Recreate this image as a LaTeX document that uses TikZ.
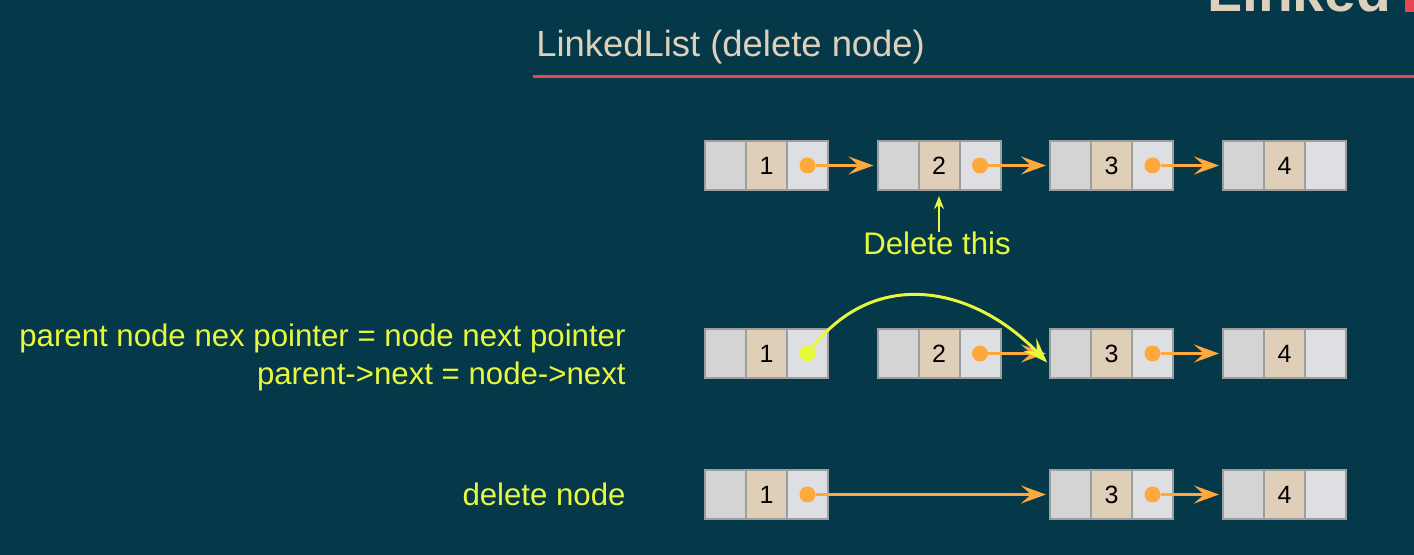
\documentclass[tikz,border=0pt]{standalone}
\usepackage{fontspec}
\setmainfont{Liberation Sans}
\usepackage{tikz}
\usetikzlibrary{arrows.meta,positioning}

\definecolor{slidebg}{RGB}{5,57,74}
\definecolor{titlebeige}{RGB}{221,209,187}
\definecolor{titlered}{RGB}{232,70,80}
\definecolor{cellprev}{RGB}{212,212,212}
\definecolor{celldata}{RGB}{224,207,184}
\definecolor{cellnext}{RGB}{222,223,227}
\definecolor{cellborder}{RGB}{158,158,158}
\definecolor{linkorange}{RGB}{255,168,60}
\definecolor{noteyellow}{RGB}{232,248,62}

\begin{document}
\begin{tikzpicture}[x=0.5pt,y=-0.5pt,>={Stealth[length=12.5pt,width=9pt,inset=5pt]},
  cell/.style={draw=cellborder,line width=1pt,minimum width=20.5pt,minimum height=24.5pt,
    inner sep=0pt,outer sep=0pt,font=\fontsize{12.5}{15}\selectfont},
  prev cell/.style={cell,fill=cellprev},
  data cell/.style={cell,fill=celldata},
  next cell/.style={cell,fill=cellnext},
  dot/.style={circle,inner sep=0pt,minimum size=8pt},
  link/.style={->,draw=linkorange,line width=1.5pt,shorten >=2pt},
  note/.style={text=noteyellow,font=\fontsize{15.6}{19.5}\selectfont,inner sep=0pt}]

  \useasboundingbox (0,0) rectangle (1414,555);
  \fill[slidebg] (0,0) rectangle (1414,555);
  \clip (0,0) rectangle (1414,555);

  % heading
  \node[anchor=base west,inner sep=0pt,text=titlebeige,font=\bfseries\fontsize{28.5}{30}\selectfont] (head) at (1207,12) {Linked};
  \fill[titlered] (1405,0) rectangle (1414,12);
  \node[anchor=base west,inner sep=0pt,text=titlebeige,font=\fontsize{18.2}{22}\selectfont] (title) at (536,57) {LinkedList (delete node)};
  \fill[titlered] (533,75.5) rectangle (1414,78.5);

  % the three lists
  \foreach \i/\x in {1/725.5,2/898,3/1070.5,4/1243.5} {
    \node[prev cell] (t\i-p) at (\x,165.5) {};
    \node[data cell,right=0pt of t\i-p] (t\i-d) {\i};
    \node[next cell,right=0pt of t\i-d] (t\i-n) {};
    \node[prev cell] (m\i-p) at (\x,353.5) {};
    \node[data cell,right=0pt of m\i-p] (m\i-d) {\i};
    \node[next cell,right=0pt of m\i-d] (m\i-n) {};
  }
  \foreach \i/\x in {1/725.5,3/1070.5,4/1243.5} {
    \node[prev cell] (b\i-p) at (\x,494.5) {};
    \node[data cell,right=0pt of b\i-p] (b\i-d) {\i};
    \node[next cell,right=0pt of b\i-d] (b\i-n) {};
  }

  \foreach \r in {t1,t2,t3,m2,m3,b1,b3}
    \node[dot,fill=linkorange] (\r-o) at (\r-n) {};
  \node[dot,fill=noteyellow] (m1-o) at (m1-n) {};

  \coordinate (m3in) at ([yshift=-6pt]m3-p.west);

  % labels
  \node[note,anchor=base] (del) at (937,255) {Delete this};
  \node[note,anchor=base east] (expl1) at (626,346.7) {parent node nex pointer = node next pointer};
  \node[note,anchor=base east] (expl2) at (626,385) {parent->next = node->next};
  \node[note,anchor=base east] (expl3) at (626,506) {delete node};

  % links
  \draw[link] (t1-o) -- (t2-p);
  \draw[link] (t2-o) -- (t3-p);
  \draw[link] (t3-o) -- (t4-p);
  \draw[link] (m2-o) -- (m3-p);
  \draw[link] (m3-o) -- (m4-p);
  \draw[link,draw=noteyellow] (m1-o) .. controls +(70,-88) and +(-75,-78) .. (m3in);
  \draw[link] (b1-o) -- (b3-p);
  \draw[link] (b3-o) -- (b4-p);
  \draw[->,>={Stealth[length=6.5pt,width=5pt]},draw=noteyellow,line width=1pt,shorten >=3pt]
    (t2-d.south |- del.north) -- (t2-d.south);
\end{tikzpicture}
\end{document}
